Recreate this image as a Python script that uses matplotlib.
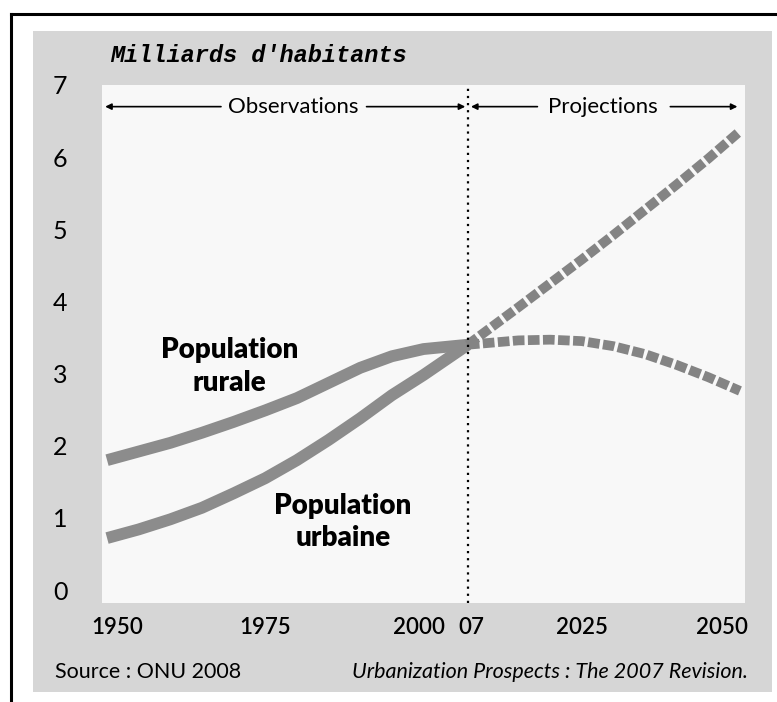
import matplotlib.pyplot as plt
import matplotlib.transforms as mtransforms
from matplotlib.lines import Line2D
from matplotlib.patches import Rectangle

W, H = 777, 702
PANEL, PLOT_BG, LINE, DASH = "#d6d6d6", "#f8f8f8", "#8c8c8c", "#848484"
FONT = "Lato"

# values (billions of people)
years_obs = [1950, 1955, 1960, 1965, 1970, 1975, 1980, 1985, 1990, 1995, 2000, 2007]
rural_obs = [1.80, 1.92, 2.04, 2.18, 2.33, 2.49, 2.66, 2.87, 3.08, 3.24, 3.34, 3.40]
urban_obs = [0.72, 0.84, 0.98, 1.14, 1.34, 1.55, 1.80, 2.08, 2.38, 2.70, 2.98, 3.40]

years_proj = [2007, 2015, 2020, 2025, 2030, 2035, 2040, 2045, 2050]
rural_proj = [3.40, 3.46, 3.47, 3.45, 3.38, 3.27, 3.12, 2.95, 2.76]
urban_proj = [3.40, 3.92, 4.25, 4.58, 4.92, 5.27, 5.62, 5.98, 6.36]

x_ticks = [1950, 1975, 2000, 2007, 2025, 2050]
x_labels = ["1950", "1975", "2000", "07", "2025", "2050"]
y_ticks = [0, 1, 2, 3, 4, 5, 6, 7]


def px(x0, y0, x1, y1):
    return [x0 / W, 1 - y1 / H, (x1 - x0) / W, (y1 - y0) / H]


fig = plt.figure(figsize=(W / 100, H / 100), dpi=100)
fig.patch.set_facecolor("white")

# scanned frame + grey panel
fig.add_artist(Line2D([11 / W, 1], [1 - 14 / H] * 2, color="black", lw=2.2))
fig.add_artist(Line2D([11 / W] * 2, [0, 1 - 14 / H], color="black", lw=2.2))
fig.add_artist(Rectangle((33 / W, 1 - 692 / H), (772 - 33) / W, (692 - 31) / H,
                         facecolor=PANEL, edgecolor="none", zorder=0))

ax = fig.add_axes(px(102, 85, 745, 603))
ax.set_facecolor(PLOT_BG)
for s in ax.spines.values():
    s.set_visible(False)
ax.set_xlim(1949.2, 2050.8)
ax.set_ylim(-0.18, 6.97)

ax.plot(years_obs, rural_obs, color=LINE, lw=8.5, solid_capstyle="butt", zorder=3)
ax.plot(years_obs, urban_obs, color=LINE, lw=8.5, solid_capstyle="butt", zorder=3)
ax.plot(years_proj, rural_proj, color=DASH, lw=7, dashes=(1.2, 0.35),
        dash_capstyle="butt", zorder=3)
ax.plot(years_proj, urban_proj, color=DASH, lw=7, dashes=(1.2, 0.35),
        dash_capstyle="butt", zorder=3)

ax.axvline(2007, color="black", lw=1.6, linestyle=(0, (1, 2.2)), zorder=4)

ax.set_xticks(x_ticks)
ax.set_xticklabels(x_labels, fontsize=16, fontweight="semibold", family=FONT)
ax.set_yticks(y_ticks)
ax.set_yticklabels([str(v) for v in y_ticks], fontsize=18, family=FONT)
ax.tick_params(axis="x", length=0, pad=10)
ax.tick_params(axis="y", length=0, pad=30)
for t in ax.get_yticklabels():
    t.set_horizontalalignment("center")
# end labels sit inside the axis ends in the original
for t, dx in zip(ax.get_xticklabels(), [10, 0, -4, 4, 0, -18]):
    t.set_transform(t.get_transform() + mtransforms.ScaledTranslation(
        dx / 100, 0, fig.dpi_scale_trans))

# observations / projections arrows
arrow = dict(arrowstyle="-|>", color="black", lw=1.2, mutation_scale=9,
             shrinkA=0, shrinkB=0)
ya = 6.70
for x0, x1 in [(1968.0, 1949.7), (1991.0, 2006.6), (2018.0, 2007.5),
               (2039.0, 2049.6)]:
    ax.annotate("", xy=(x1, ya), xytext=(x0, ya), arrowprops=arrow)
ax.text(1979.4, ya, "Observations", ha="center", va="center", fontsize=16,
        family=FONT)
ax.text(2028.4, ya, "Projections", ha="center", va="center", fontsize=16,
        family=FONT)

ax.text(1969.4, 3.10, "Population\nrurale", ha="center", va="center",
        fontsize=20, fontweight="heavy", family=FONT, linespacing=1.3)
ax.text(1987.3, 0.94, "Population\nurbaine", ha="center", va="center",
        fontsize=20, fontweight="heavy", family=FONT, linespacing=1.3)

fig.text(110 / W, 1 - 55 / H, "Milliards d'habitants", family="Liberation Mono",
         style="italic", fontweight="bold", fontsize=17, va="center")
fig.text(55 / W, 1 - 672 / H, "Source : ONU 2008", family=FONT, fontsize=15.5,
         va="center")
fig.text(748 / W, 1 - 672 / H, "Urbanization Prospects : The 2007 Revision.",
         family=FONT, fontsize=15.5, style="italic", va="center", ha="right")

fig.savefig("out.png", dpi=100)
